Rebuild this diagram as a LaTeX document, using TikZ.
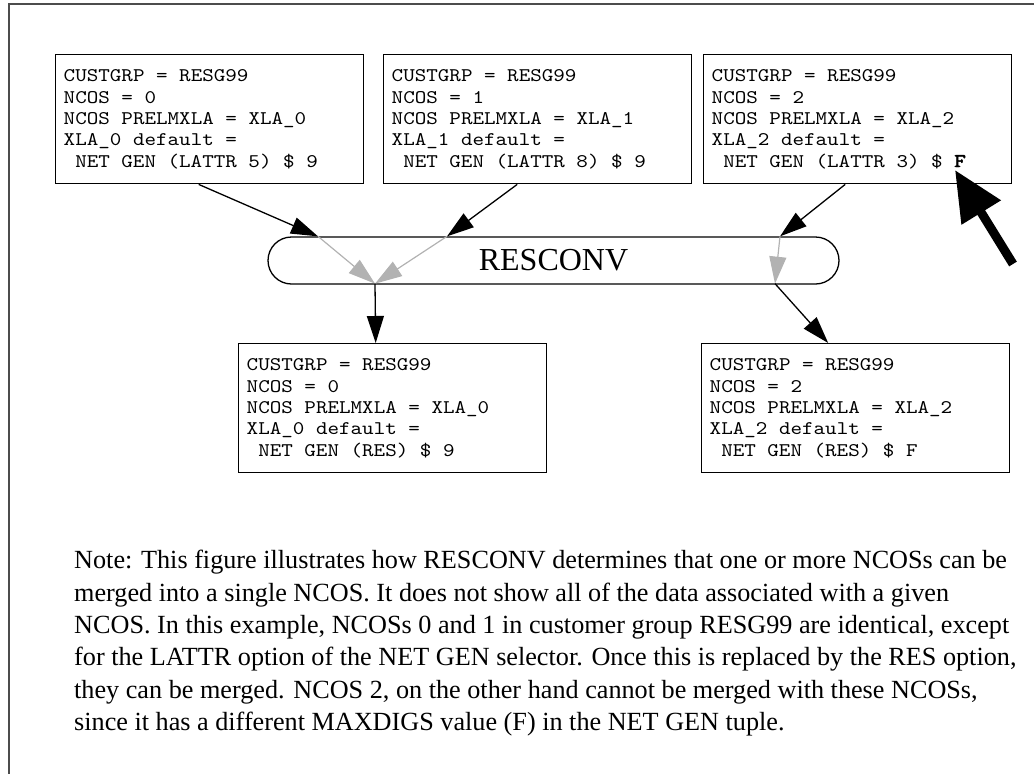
\documentclass[tikz,border=0pt]{standalone}
\usepackage{fontspec}
\setmainfont{Liberation Serif}
\setmonofont{lmmono10-regular.otf}[FakeStretch=1.14,
  BoldFont=lmmono10-regular.otf, BoldFeatures={FakeBold=2.5}]
\usetikzlibrary{arrows.meta}
% one fixed-pitch blank, as wide as a glyph of the current typewriter font
\newcommand\ms{\makebox[\fontcharwd\font`M]{}}

\begin{document}
\begin{tikzpicture}[x=1pt,y=-1pt,
  frame/.style={draw=black!70, line width=2pt},
  card/.style={draw, line width=1.4pt, anchor=north west, text width=292pt,
    inner xsep=8pt, inner ysep=0pt, minimum height=129pt, align=left,
    font=\ttfamily\fontsize{19.3}{21.3}\selectfont},
  pill/.style={draw, line width=1.3pt, rounded corners=23.5pt,
    minimum width=571pt, minimum height=47pt, inner sep=0pt,
    font=\fontsize{32}{36}\selectfont},
  blk/.style={draw=black, line width=1.3pt, -{Triangle[length=27pt,width=17pt]}},
  gry/.style={draw=black!30, line width=1.2pt, -{Triangle[length=27pt,width=17pt]}},
  pointer/.style={draw=black, line width=9pt, -{Triangle[length=50pt,width=44pt]}},
  note/.style={anchor=north west, align=left, inner sep=0pt,
    font=\fontsize{26.2}{32.4}\selectfont}
]
\useasboundingbox (0,0) rectangle (1034,774);

% page frame
\draw[frame] (1034,4) -- (9,4) -- (9,774);

% input NCOS records
\node[card] (b1) at (55,54) {CUSTGRP\ms=\ms RESG99\\NCOS\ms=\ms 0\\NCOS\ms PRELMXLA\ms=\ms XLA\_0\\XLA\_0\ms default\ms=\\\ms NET\ms GEN\ms(LATTR\ms 5)\ms\$\ms 9};
\node[card] (b2) at (383,54) {CUSTGRP\ms=\ms RESG99\\NCOS\ms=\ms 1\\NCOS\ms PRELMXLA\ms=\ms XLA\_1\\XLA\_1\ms default\ms=\\\ms NET\ms GEN\ms(LATTR\ms 8)\ms\$\ms 9};
\node[card] (b3) at (703,54) {CUSTGRP\ms=\ms RESG99\\NCOS\ms=\ms 2\\NCOS\ms PRELMXLA\ms=\ms XLA\_2\\XLA\_2\ms default\ms=\\\ms NET\ms GEN\ms(LATTR\ms 3)\ms\$\ms\textbf{F}};

% conversion step
\node[pill] (R) at (553.5,260.5) {RESCONV};

% output NCOS records
\node[card] (b4) at (238,343) {CUSTGRP\ms=\ms RESG99\\NCOS\ms=\ms 0\\NCOS\ms PRELMXLA\ms=\ms XLA\_0\\XLA\_0\ms default\ms=\\\ms NET\ms GEN\ms(RES)\ms\$\ms 9};
\node[card] (b5) at (701,343) {CUSTGRP\ms=\ms RESG99\\NCOS\ms=\ms 2\\NCOS\ms PRELMXLA\ms=\ms XLA\_2\\XLA\_2\ms default\ms=\\\ms NET\ms GEN\ms(RES)\ms\$\ms F};

% entry and exit points on the conversion step
\coordinate (in1) at ([xshift=-235.5pt]R.north);
\coordinate (in2) at ([xshift=-106.5pt]R.north);
\coordinate (in3) at ([xshift=226.5pt]R.north);
\coordinate (out1) at ([xshift=-178.5pt,yshift=1pt]R.south);
\coordinate (out2) at ([xshift=221.5pt,yshift=1pt]R.south);

% flows into RESCONV
\draw[blk] ([xshift=-11pt]b1.south) -- (in1);
\draw[blk] ([xshift=-20.5pt]b2.south) -- (in2);
\draw[blk] ([xshift=-12.5pt]b3.south) -- (in3);

% merging inside RESCONV
\draw[gry] (in1) -- (out1);
\draw[gry] (in2) -- (out1);
\draw[gry] (in3) -- (out2);

% flows out of RESCONV
\draw[blk] (out1) -- ([xshift=-17pt]b4.north);
\draw[blk] (out2) -- ([xshift=-27.5pt]b5.north);

% highlight of the differing MAXDIGS value
\coordinate (ptail) at (1013,264);
\coordinate (ptip) at (955,170);
\draw[pointer] (ptail) -- (ptip);

% explanatory note
\node[note] (txt) at (74,550) {Note: This figure illustrates how RESCONV determines that one or more NCOSs can be\\
merged into a single NCOS. It does not show all of the data associated with a given\\
NCOS. In this example, NCOSs 0 and 1 in customer group RESG99 are identical, except\\
for the LATTR option of the NET GEN selector. Once this is replaced by the RES option,\\
they can be merged. NCOS 2, on the other hand cannot be merged with these NCOSs,\\
since it has a different MAXDIGS value (F) in the NET GEN tuple.};
\end{tikzpicture}
\end{document}
